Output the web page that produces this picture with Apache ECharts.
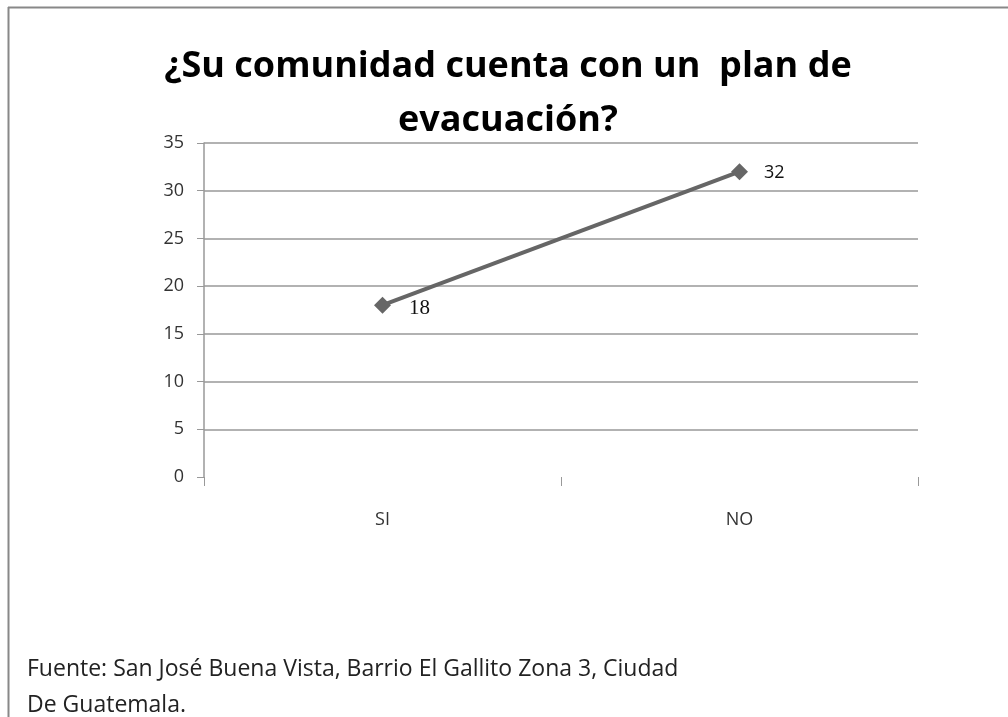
<!DOCTYPE html>
<html>
<head>
<meta charset="utf-8">
<script src="https://cdn.jsdelivr.net/npm/echarts@6/dist/echarts.min.js"></script>
<style>
  html, body { margin: 0; padding: 0; background: #fff; }
  #chart { width: 1008px; height: 717px; }
</style>
</head>
<body>
<div id="chart"></div>
<script>
// datos
const categories = ["SI", "NO"];
const respuestas = [18, 32];
const yTicks = [0, 5, 10, 15, 20, 25, 30, 35];

const chart = echarts.init(document.getElementById("chart"));

const option = {
  backgroundColor: "#fff",
  animation: false,
  title: {
    text: "¿Su comunidad cuenta con un  plan de\nevacuación?",
    left: 503,
    top: 35,
    textAlign: "center",
    textStyle: {
      fontFamily: "Open Sans",
      fontWeight: "bold",
      fontSize: 36,
      lineHeight: 54,
      color: "#000",
    },
  },
  graphic: [
    // marco del grafico
    { type: "line", shape: { x1: 8, y1: 7.5, x2: 1008, y2: 7.5 }, style: { stroke: "#888", lineWidth: 2 } },
    { type: "line", shape: { x1: 8.5, y1: 7, x2: 8.5, y2: 717 }, style: { stroke: "#888", lineWidth: 2 } },
    {
      type: "text",
      left: 27,
      top: 651,
      style: {
        text: "Fuente: San José Buena Vista, Barrio El Gallito Zona 3, Ciudad\nDe Guatemala.",
        font: "23px 'Open Sans'",
        lineHeight: 36,
        fill: "#222",
      },
    },
  ],
  grid: {
    left: 204,
    right: 90,
    top: 143,
    bottom: 240,
    containLabel: false,
  },
  xAxis: {
    type: "category",
    data: categories,
    boundaryGap: true,
    axisLine: { show: false },
    axisTick: { show: true, length: 9, inside: false, lineStyle: { color: "#999", width: 1 } },
    axisLabel: {
      margin: 34,
      fontFamily: "Open Sans",
      fontSize: 18,
      color: "#333",
    },
  },
  yAxis: {
    type: "value",
    min: yTicks[0],
    max: yTicks[yTicks.length - 1],
    interval: 5,
    axisLine: { show: true, lineStyle: { color: "#999", width: 1.5 } },
    axisTick: { show: true, length: 7, lineStyle: { color: "#999" } },
    axisLabel: {
      margin: 20,
      fontFamily: "Open Sans",
      fontSize: 18,
      color: "#333",
    },
    splitLine: {
      show: true,
      // sin linea en 0
      lineStyle: { color: yTicks.map((t) => (t === 0 ? "rgba(0,0,0,0)" : "#999")), width: 1.5 },
    },
  },
  series: [
    {
      type: "line",
      data: respuestas.map((v, i) => ({
        value: v,
        label: i === 0
          ? { fontFamily: "Liberation Serif", fontSize: 21, offset: [4, 3] }
          : { fontFamily: "Open Sans", fontSize: 18, offset: [2, 1] },
      })),
      symbol: "diamond",
      symbolSize: 17,
      lineStyle: { color: "#666", width: 4 },
      itemStyle: { color: "#666" },
      label: {
        show: true,
        position: "right",
        distance: 14,
        color: "#111",
      },
    },
  ],
};

chart.setOption(option);
</script>
</body>
</html>
